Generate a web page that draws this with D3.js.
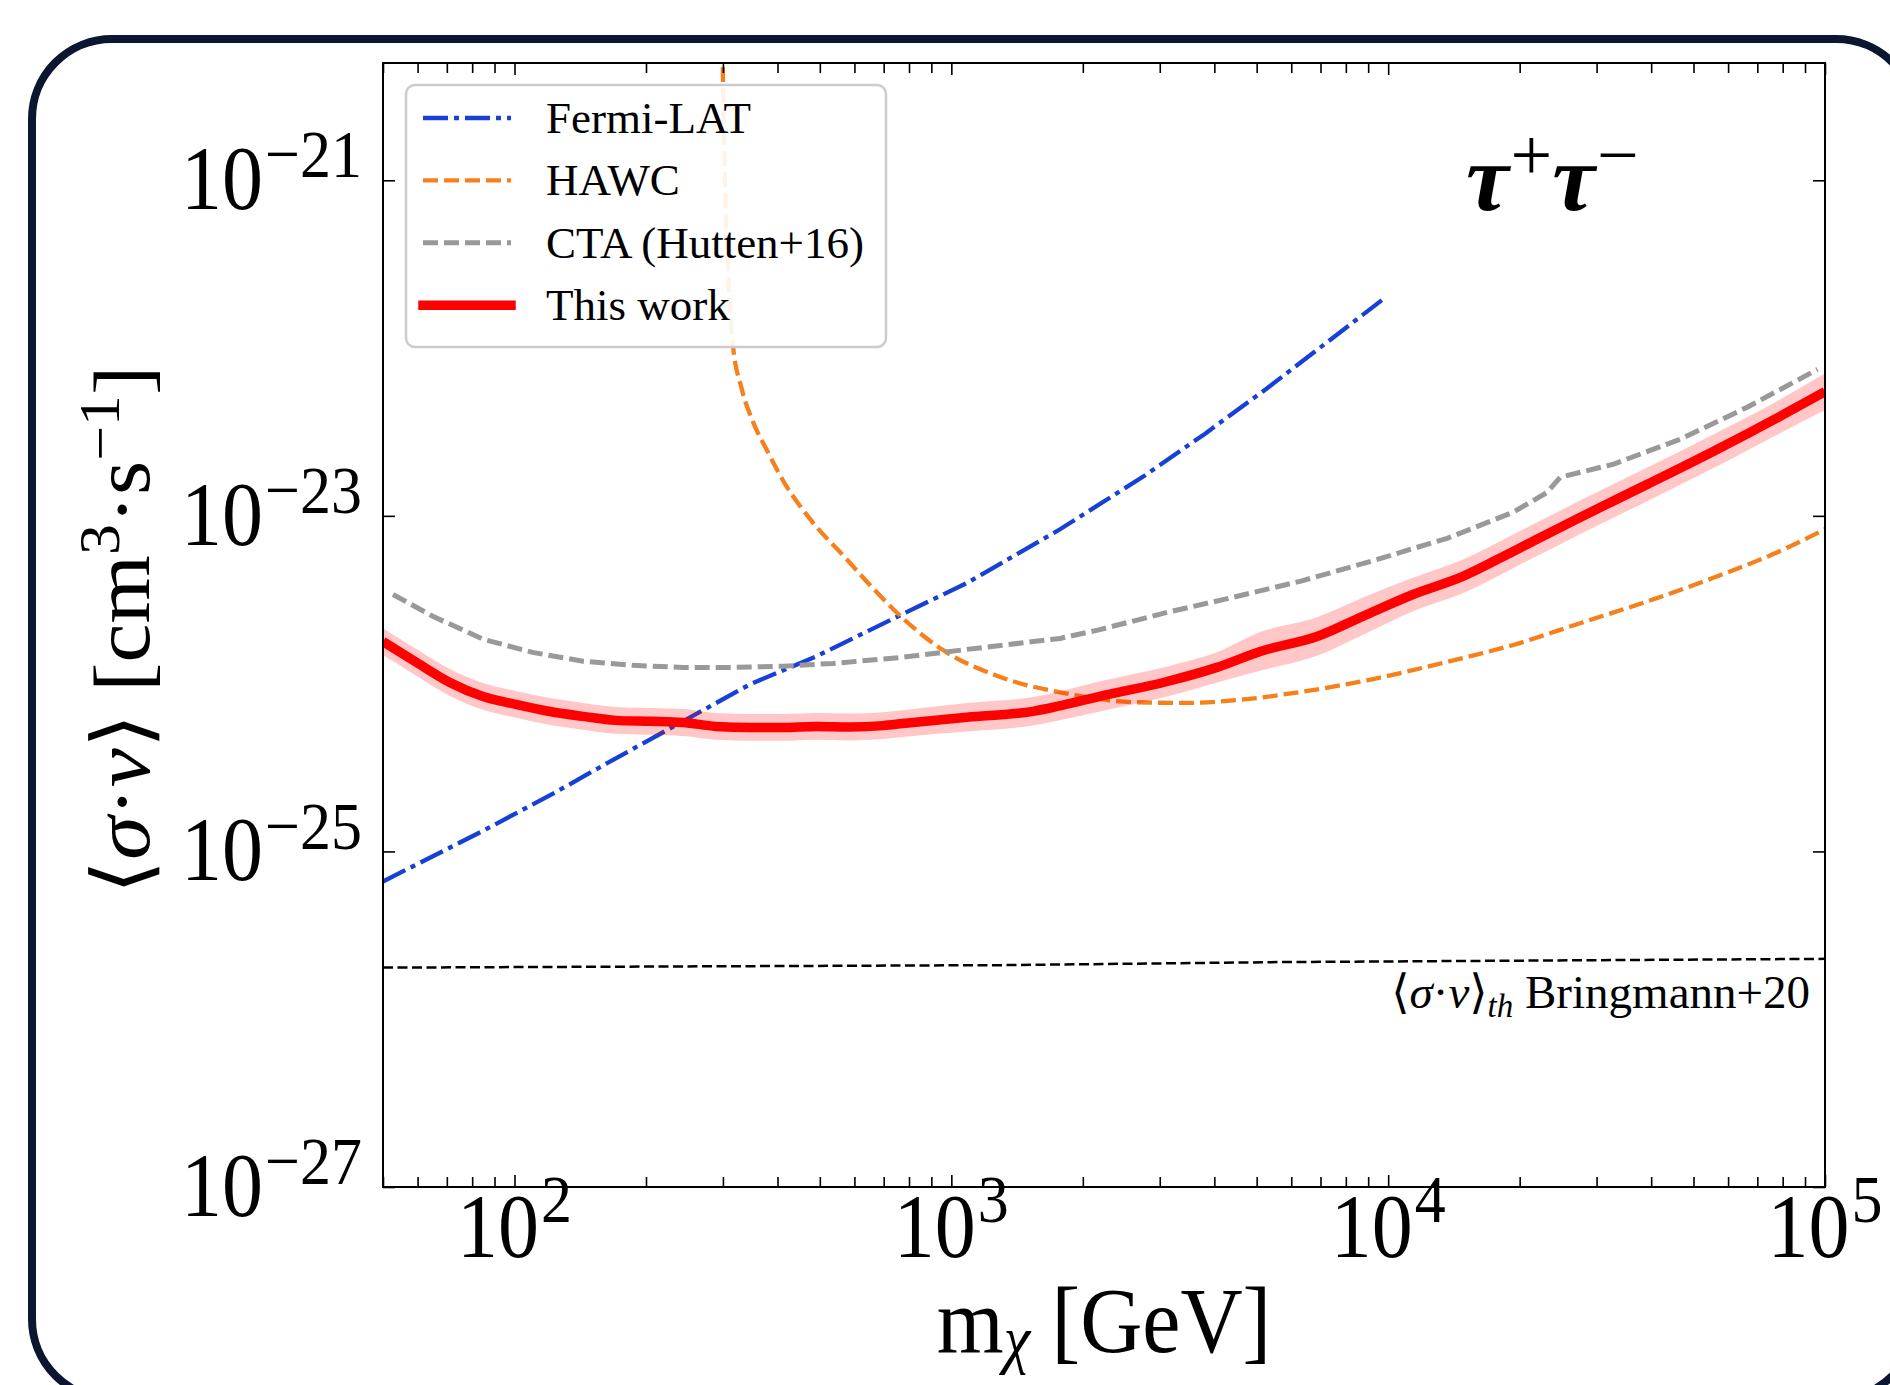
<!DOCTYPE html>
<html>
<head>
<meta charset="utf-8">
<script src="https://cdn.jsdelivr.net/npm/d3@7"></script>
<style>
  body { margin: 0; background: #fff; }
  svg { display: block; }
  text { font-family: "Liberation Serif", "Times New Roman", "DejaVu Serif", serif; fill: #000; }
</style>
</head>
<body>
<svg id="chart"></svg>
<script>
// --- data (mass in GeV, <sigma v> in cm^3/s) ---
const massThisWork = [50, 59.6, 71.1, 84.7, 100.7, 120.5, 143.5, 170.6, 204, 243, 289, 346, 412, 490, 586, 698, 774,
  1086, 1538, 1746, 2188, 3119, 4055, 5093, 6871, 8954, 11400, 14830, 19320, 27480, 39170, 55460, 78890, 100000];
const svThisWork = [1.78e-24, 1.34e-24, 1.016e-24, 8.39e-25, 7.52e-25, 6.82e-25, 6.38e-25, 6.04e-25, 5.96e-25, 5.87e-25,
  5.56e-25, 5.48e-25, 5.48e-25, 5.56e-25, 5.52e-25, 5.62e-25, 5.78e-25, 6.30e-25, 6.84e-25, 7.31e-25, 8.39e-25,
  1.03e-24, 1.25e-24, 1.556e-24, 1.91e-24, 2.59e-24, 3.40e-24, 4.36e-24, 6.14e-24, 9.79e-24, 1.54e-23, 2.42e-23,
  3.92e-23, 5.50e-23];
const svThisWorkHi = [2.14e-24, 1.61e-24, 1.221e-24, 1.008e-24, 9.04e-25, 8.20e-25, 7.67e-25, 7.26e-25, 7.16e-25, 7.06e-25,
  6.68e-25, 6.59e-25, 6.59e-25, 6.68e-25, 6.64e-25, 6.76e-25, 6.95e-25, 7.66e-25, 8.32e-25, 8.89e-25, 1.032e-24,
  1.267e-24, 1.538e-24, 2.03e-24, 2.49e-24, 3.34e-24, 4.28e-24, 5.49e-24, 7.73e-24, 1.233e-23, 1.94e-23, 3.05e-23,
  4.94e-23, 7.08e-23];
const svThisWorkLo = [1.48e-24, 1.115e-24, 8.45e-25, 6.98e-25, 6.26e-25, 5.67e-25, 5.31e-25, 5.02e-25, 4.96e-25, 4.88e-25,
  4.63e-25, 4.56e-25, 4.56e-25, 4.63e-25, 4.59e-25, 4.68e-25, 4.81e-25, 5.18e-25, 5.63e-25, 6.01e-25, 6.82e-25,
  8.37e-25, 1.016e-24, 1.194e-24, 1.466e-24, 2.01e-24, 2.70e-24, 3.46e-24, 4.88e-24, 7.78e-24, 1.223e-23, 1.922e-23,
  3.11e-23, 4.27e-23];

const massFermi = [50, 84.3, 122.5, 170.6, 243, 346, 490, 774, 1086, 1774, 2773, 3811, 5248, 7211, 9772];
const svFermi = [6.62e-26, 1.318e-25, 2.21e-25, 3.59e-25, 5.96e-25, 9.91e-25, 1.452e-24, 2.60e-24, 3.98e-24, 8.32e-24,
  1.74e-23, 3.09e-23, 5.69e-23, 1.072e-22, 1.97e-22];

const massHawc = [299.2, 303.4, 309, 316.2, 331.1, 351.6, 380.2, 412.1, 478.6, 567.5, 660.7, 774.5, 957.2, 1294, 1841,
  2606, 3396, 4416, 6281, 8954, 13650, 19320, 27480, 39170, 55460, 78890, 100000];
const svHawc = [6.31e-21, 1.0e-21, 2.51e-22, 1.047e-22, 5.75e-23, 3.63e-23, 2.40e-23, 1.62e-23, 9.33e-24, 5.75e-24,
  3.72e-24, 2.45e-24, 1.585e-24, 1.096e-24, 8.71e-25, 7.76e-25, 7.67e-25, 7.94e-25, 8.91e-25, 1.047e-24, 1.349e-24,
  1.70e-24, 2.29e-24, 3.09e-24, 4.27e-24, 6.17e-24, 8.32e-24];

const massCta = [52.7, 65.0, 84.7, 110, 143.5, 187, 243, 316, 412, 536, 764, 1086, 1774, 2188, 3119, 4416, 6281, 8954,
  13650, 19320, 23120, 24770, 32730, 46560, 66370, 96160];
const svCta = [3.40e-24, 2.52e-24, 1.84e-24, 1.535e-24, 1.36e-24, 1.285e-24, 1.25e-24, 1.25e-24, 1.27e-24, 1.32e-24,
  1.43e-24, 1.60e-24, 1.86e-24, 2.10e-24, 2.66e-24, 3.27e-24, 4.07e-24, 5.28e-24, 7.35e-24, 1.05e-23, 1.38e-23,
  1.70e-23, 2.03e-23, 2.86e-23, 4.44e-23, 7.46e-23];

const massThermal = [50, 1294, 5623, 100000];
const svThermal = [2.03e-26, 2.10e-26, 2.19e-26, 2.29e-26];

const xTickMajor = [1e2, 1e3, 1e4, 1e5];
const xTickExp = ["2", "3", "4", "5"];
const yTickMajor = [1e-21, 1e-23, 1e-25, 1e-27];
const yTickExp = ["\u221221", "\u221223", "\u221225", "\u221227"];
const legendLabels = ["Fermi-LAT", "HAWC", "CTA (Hutten+16)", "This work"];

// --- mise en page ---
const W = 1890, H = 1385;
const plot = { x0: 383, x1: 1825, y0: 63, y1: 1187 };
const STRETCH = 1.1; // the mathtext labels look a bit taller than wide

const styles = {
  fermi: { color: "#1741d6", width: 4.3, dash: "25,6,5,6" },
  hawc: { color: "#f5801c", width: 4.3, dash: "15,6" },
  cta: { color: "#999999", width: 5, dash: "15,6" },
  work: { color: "#ff0000", width: 9.5, dash: null },
};

const svg = d3.select("#chart").attr("width", W).attr("height", H);

// cadre arrondi autour de la figure
svg.append("rect")
  .attr("x", 32).attr("y", 39)
  .attr("width", 1884).attr("height", 1360)
  .attr("rx", 80)
  .attr("fill", "none")
  .attr("stroke", "#0b1631")
  .attr("stroke-width", 8);

const x = d3.scaleLog().domain([50, 1e5]).range([plot.x0, plot.x1]);
const y = d3.scaleLog().domain([1e-27, 5e-21]).range([plot.y1, plot.y0]);

svg.append("clipPath").attr("id", "clip")
  .append("rect")
  .attr("x", plot.x0).attr("y", plot.y0)
  .attr("width", plot.x1 - plot.x0).attr("height", plot.y1 - plot.y0);

const g = svg.append("g").attr("clip-path", "url(#clip)");

const lineGen = (curve) => d3.line().x((d) => x(d[0])).y((d) => y(d[1])).curve(curve);

// ligne thermique
g.append("path")
  .attr("d", lineGen(d3.curveLinear)(d3.zip(massThermal, svThermal)))
  .attr("fill", "none").attr("stroke", "#000").attr("stroke-width", 2.5)
  .attr("stroke-dasharray", "10,4.5");

function drawSeries(mass, sv, st, curve) {
  g.append("path")
    .attr("d", lineGen(curve)(d3.zip(mass, sv)))
    .attr("fill", "none")
    .attr("stroke", st.color)
    .attr("stroke-width", st.width)
    .attr("stroke-dasharray", st.dash);
}

drawSeries(massFermi, svFermi, styles.fermi, d3.curveLinear);
drawSeries(massHawc, svHawc, styles.hawc, d3.curveMonotoneX);
drawSeries(massCta, svCta, styles.cta, d3.curveLinear);

// bande + courbe "This work"
g.append("path")
  .attr("d", d3.area()
    .x((d) => x(d[0]))
    .y0((d) => y(d[1]))
    .y1((d) => y(d[2]))
    .curve(d3.curveMonotoneX)(d3.zip(massThisWork, svThisWorkLo, svThisWorkHi)))
  .attr("fill", "#ff0000")
  .attr("fill-opacity", 0.22);
drawSeries(massThisWork, svThisWork, styles.work, d3.curveMonotoneX);

// --------------------
// Axes (ticks vers l'interieur sur les 4 cotes)
// --------------------
const isDecade = (v) => Math.abs(Math.log10(v) - Math.round(Math.log10(v))) < 1e-9;
const xMinor = x.ticks().filter((v) => !isDecade(v));

function tickAxis(axis, tx, ty) {
  const a = svg.append("g").attr("transform", `translate(${tx},${ty})`).call(axis);
  a.select(".domain").remove();
  a.selectAll("line").attr("stroke", "#000").attr("stroke-width", 1.6);
}

tickAxis(d3.axisBottom(x).tickValues(xMinor).tickSize(-10).tickFormat(""), 0, plot.y1);
tickAxis(d3.axisBottom(x).tickValues(xTickMajor).tickSize(-12).tickFormat(""), 0, plot.y1);
tickAxis(d3.axisTop(x).tickValues(xMinor).tickSize(-10).tickFormat(""), 0, plot.y0);
tickAxis(d3.axisTop(x).tickValues(xTickMajor).tickSize(-12).tickFormat(""), 0, plot.y0);
tickAxis(d3.axisLeft(y).tickValues(yTickMajor).tickSize(-12).tickFormat(""), plot.x0, 0);
tickAxis(d3.axisRight(y).tickValues(yTickMajor).tickSize(-12).tickFormat(""), plot.x1, 0);

svg.append("rect")
  .attr("x", plot.x0).attr("y", plot.y0)
  .attr("width", plot.x1 - plot.x0).attr("height", plot.y1 - plot.y0)
  .attr("fill", "none").attr("stroke", "#000").attr("stroke-width", 2);

function powLabel(px, py, exp, anchor, supDy) {
  const t = svg.append("g")
    .attr("transform", `translate(${px},${py}) scale(1,${STRETCH})`)
    .append("text")
    .attr("text-anchor", anchor)
    .attr("font-size", 82);
  t.append("tspan").text("10");
  t.append("tspan").attr("font-size", 62).attr("dx", 2).attr("dy", supDy).text(exp);
}

xTickMajor.forEach((v, i) => powLabel(x(v), 1257, xTickExp[i], "middle", -32));
yTickMajor.forEach((v, i) => powLabel(362, y(v) + 29, yTickExp[i], "end", -29));

// titre axe x : m_chi [GeV]
const xl = svg.append("g")
  .attr("transform", `translate(${(plot.x0 + plot.x1) / 2},1352) scale(1,1.08)`)
  .append("text").attr("text-anchor", "middle").attr("font-size", 86);
xl.append("tspan").text("m");
xl.append("tspan").attr("font-size", 60).attr("font-style", "italic").attr("dy", 8).text("\u03c7");
xl.append("tspan").attr("dy", -8).text(" [GeV]");

// titre axe y : <sigma.v> [cm^3.s^-1]
const yl = svg.append("g")
  .attr("transform", `translate(149,630) scale(1,1.1) rotate(-90)`)
  .append("text").attr("text-anchor", "middle").attr("font-size", 80);
yl.append("tspan").text("\u27e8");
yl.append("tspan").attr("font-style", "italic").text("\u03c3");
yl.append("tspan").text("\u00b7");
yl.append("tspan").attr("font-style", "italic").text("v");
yl.append("tspan").text("\u27e9 [cm");
yl.append("tspan").attr("font-size", 56).attr("dy", -30).text("3");
yl.append("tspan").attr("dy", 30).text("\u00b7s");
yl.append("tspan").attr("font-size", 56).attr("dy", -30).text("\u22121");
yl.append("tspan").attr("dy", 30).text("]");

// canal tau+ tau-
const tt = svg.append("text").attr("x", 1466).attr("y", 210).attr("font-size", 96);
tt.append("tspan").attr("font-style", "italic").attr("font-weight", "bold").text("\u03c4");
tt.append("tspan").attr("font-size", 74).attr("dx", 2).attr("dy", -30).text("+");
tt.append("tspan").attr("font-style", "italic").attr("font-weight", "bold").attr("dy", 30).text("\u03c4");
tt.append("tspan").attr("font-size", 74).attr("dx", 2).attr("dy", -30).text("\u2212");

// annotation ligne thermique
const th = svg.append("text").attr("x", 1810).attr("y", 1008)
  .attr("text-anchor", "end").attr("font-size", 47);
th.append("tspan").text("\u27e8");
th.append("tspan").attr("font-style", "italic").text("\u03c3");
th.append("tspan").text("\u00b7");
th.append("tspan").attr("font-style", "italic").text("v");
th.append("tspan").text("\u27e9");
th.append("tspan").attr("font-style", "italic").attr("font-size", 33).attr("dy", 9).text("th");
th.append("tspan").attr("dy", -9).text(" Bringmann+20");

// --------------------
// Legende
// --------------------
const leg = svg.append("g");
leg.append("rect")
  .attr("x", 406).attr("y", 85).attr("width", 480).attr("height", 262)
  .attr("rx", 9)
  .attr("fill", "#fff").attr("fill-opacity", 0.9)
  .attr("stroke", "#cccccc").attr("stroke-width", 2.5);

const legStyles = [styles.fermi, styles.hawc, styles.cta, styles.work];
legendLabels.forEach((label, i) => {
  const cy = 118 + i * 62.4;
  const st = legStyles[i];
  leg.append("line")
    .attr("x1", 423).attr("x2", 511).attr("y1", cy).attr("y2", cy)
    .attr("stroke", st.color)
    .attr("stroke-width", st.width)
    .attr("stroke-dasharray", st.dash)
    .attr("stroke-linecap", st.dash ? "butt" : "square");
  leg.append("text")
    .attr("x", 546).attr("y", cy + 15)
    .attr("font-size", 45)
    .text(label);
});
</script>
</body>
</html>
